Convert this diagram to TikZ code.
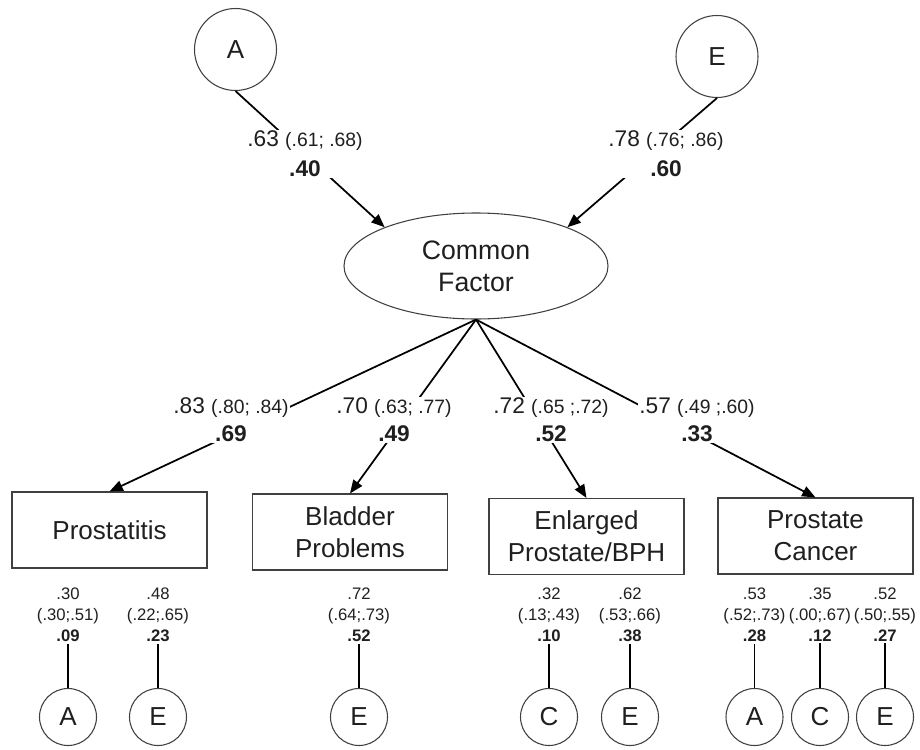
\documentclass[tikz,border=0pt]{standalone}
\usepackage{fontspec}
\setmainfont{Liberation Sans}
\usetikzlibrary{arrows.meta,shapes.geometric}
\newcommand{\cint}[1]{{\fontsize{14.5}{21}\selectfont #1}}
\tikzset{
  latent/.style={circle,draw=black!75,line width=0.8pt,minimum size=61.5pt,inner sep=0pt,text=black!88,font=\fontsize{19.5}{24}\selectfont},
  smlatent/.style={circle,draw=black!75,line width=0.8pt,minimum size=42.75pt,inner sep=0pt,text=black!88,font=\fontsize{19.5}{24}\selectfont},
  factor/.style={ellipse,draw=black!75,line width=0.8pt,minimum width=198pt,minimum height=79.5pt,inner sep=0pt,align=center,text=black!88,font=\fontsize{20}{24}\selectfont},
  pheno/.style={rectangle,draw=black!75,line width=0.8pt,minimum width=146.25pt,minimum height=57pt,inner sep=0pt,align=center,text=black!88,font=\fontsize{19.5}{24}\selectfont},
  loading/.style={line width=1.3pt,-{Triangle[length=10pt,width=8pt]}},
  varline/.style={line width=1.2pt},
  est/.style={fill=white,inner sep=1pt,align=center,text=black!88,font=\fontsize{17}{21}\selectfont},
  topest/.style={est,font=\fontsize{17}{22.5}\selectfont},
  vest/.style={inner sep=1pt,align=center,text=black!88,font=\fontsize{12.5}{15.75}\selectfont}
}
\begin{document}
\begin{tikzpicture}[x=0.75pt,y=0.75pt,yscale=-1,xscale=1]
  \path (0,0) rectangle (920,749);

  %Shape: Circle (top latents)
  \node[latent] (topA) at (235.5,49.5) {A};
  \node[latent] (topE) at (717,56.5) {E};

  %Shape: Ellipse
  \node[factor] (cf) at (476,266) {Common\\Factor};

  %Shape: Rectangle (phenotypes)
  \node[pheno] (prost) at (109.5,530) {Prostatitis};
  \node[pheno] (blad) at (350,532) {Bladder\\Problems};
  \node[pheno] (bph) at (586.5,536.5) {Enlarged\\Prostate/BPH};
  \node[pheno] (canc) at (815.5,536) {Prostate\\Cancer};

  %Straight Lines
  \draw[loading] (topA.south) -- (cf.157);
  \draw[loading] (topE.south) -- (cf.23);
  \draw[loading] (cf.south) -- (prost.north);
  \draw[loading] (cf.south) -- (blad.north);
  \draw[loading] (cf.south) -- (bph.north);
  \draw[loading] (cf.south) -- (canc.north);

  % Text Node
  \node[topest] (labA) at (305,154) {.63 \cint{(.61; .68)}\\\textbf{.40}};
  \node[topest] (labE) at (666,154) {.78 \cint{(.76; .86)}\\\textbf{.60}};
  \node[est] (lab1) at (231,420) {.83 \cint{(.80; .84)}\\\textbf{.69}};
  \node[est] (lab2) at (394,420) {.70 \cint{(.63; .77)}\\\textbf{.49}};
  \node[est] (lab3) at (551,420) {.72 \cint{(.65 ;.72)}\\\textbf{.52}};
  \node[est] (lab4) at (697,420) {.57 \cint{(.49 ;.60)}\\\textbf{.33}};

  %Shape: Circle (bottom latents)
  \node[smlatent] (pA) at (68,717) {A};
  \node[smlatent] (pE) at (158,717) {E};
  \node[smlatent] (bE) at (359,717) {E};
  \node[smlatent] (hC) at (549,717) {C};
  \node[smlatent] (hE) at (630,717) {E};
  \node[smlatent] (kA) at (754.5,717) {A};
  \node[smlatent] (kC) at (820,717) {C};
  \node[smlatent] (kE) at (885,717) {E};

  % Text Node
  \node[vest] (lpA) at (68,615) {.30\\(.30;.51)\\\textbf{.09}};
  \node[vest] (lpE) at (158,615) {.48\\(.22;.65)\\\textbf{.23}};
  \node[vest] (lbE) at (359,615) {.72\\(.64;.73)\\\textbf{.52}};
  \node[vest] (lhC) at (549,615) {.32\\(.13;.43)\\\textbf{.10}};
  \node[vest] (lhE) at (630,615) {.62\\(.53;.66)\\\textbf{.38}};
  \node[vest] (lkA) at (754.5,615) {.53\\(.52;.73)\\\textbf{.28}};
  \node[vest] (lkC) at (820,615) {.35\\(.00;.67)\\\textbf{.12}};
  \node[vest] (lkE) at (885,615) {.52\\(.50;.55)\\\textbf{.27}};

  %Straight Lines
  \draw[varline] (pA) -- (lpA);
  \draw[varline] (pE) -- (lpE);
  \draw[varline] (bE) -- (lbE);
  \draw[varline] (hC) -- (lhC);
  \draw[varline] (hE) -- (lhE);
  \draw[varline] (kA) -- (lkA);
  \draw[varline] (kC) -- (lkC);
  \draw[varline] (kE) -- (lkE);
\end{tikzpicture}
\end{document}
